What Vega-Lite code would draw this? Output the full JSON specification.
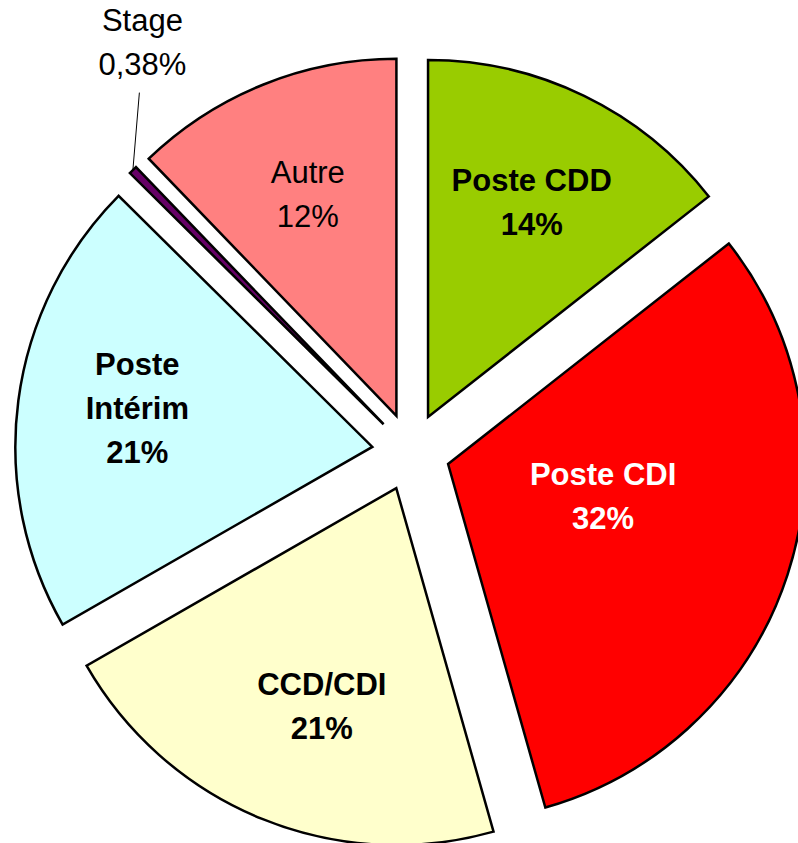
{
  "$schema": "https://vega.github.io/schema/vega-lite/v6.json",
  "width": 798,
  "height": 843,
  "autosize": {"type": "none"},
  "padding": 0,
  "background": "white",
  "config": {"view": {"stroke": null}},
  "data": {
    "values": [
      {"cat": "Poste CDD", "value": 14.4, "label": "Poste CDD\n14%"},
      {"cat": "Poste CDI", "value": 31.2, "label": "Poste CDI\n32%"},
      {"cat": "CCD/CDI", "value": 21.1, "label": "CCD/CDI\n21%"},
      {"cat": "Poste Intérim", "value": 20.7, "label": "Poste\nIntérim\n21%"},
      {"cat": "Stage", "value": 0.38, "label": "Stage\n0,38%"},
      {"cat": "Autre", "value": 12.2, "label": "Autre\n12%"}
    ]
  },
  "transform": [
    {"window": [{"op": "sum", "field": "value", "as": "cum"}], "frame": [null, 0]},
    {"joinaggregate": [{"op": "sum", "field": "value", "as": "total"}]},
    {"calculate": "(datum.cum - datum.value) / datum.total", "as": "a0"},
    {"calculate": "datum.cum / datum.total", "as": "a1"},
    {"calculate": "(datum.a0 + datum.a1) / 2", "as": "m"},
    {"calculate": "39 * sin(2 * PI * datum.m)", "as": "ex"},
    {"calculate": "-39 * cos(2 * PI * datum.m)", "as": "ey"},
    {"calculate": "datum.ex + 357 * sin(2 * PI * datum.m)", "as": "ox"},
    {"calculate": "datum.ey - 357 * cos(2 * PI * datum.m)", "as": "oy"},
    {"calculate": "datum.ox + 6.5", "as": "ox2"},
    {"calculate": "datum.oy - 77.5", "as": "oy2"}
  ],
  "encoding": {
    "x": {"field": "ex", "type": "quantitative", "stack": null, "scale": {"domain": [-411, 387], "range": [0, 798], "nice": false, "zero": false}, "axis": null},
    "y": {"field": "ey", "type": "quantitative", "stack": null, "scale": {"domain": [-452, 391], "range": [0, 843], "nice": false, "zero": false}, "axis": null}
  },
  "layer": [
    {
      "mark": {"type": "arc", "outerRadius": 357, "stroke": "black", "strokeWidth": 2.5},
      "encoding": {
        "theta": {"field": "a0", "type": "quantitative", "stack": null, "scale": {"domain": [0, 1], "range": [0, 6.283185307179586]}},
        "theta2": {"field": "a1"},
        "color": {
          "field": "cat", "type": "nominal", "legend": null,
          "scale": {
            "domain": ["Poste CDD", "Poste CDI", "CCD/CDI", "Poste Intérim", "Stage", "Autre"],
            "range": ["#99CC00", "#FF0000", "#FFFFCC", "#CCFFFF", "#660066", "#FF8080"]
          }
        }
      }
    },
    {
      "transform": [{"filter": "datum.cat === 'Poste CDD'"}],
      "mark": {"type": "text", "radius": 237, "dy": -22, "font": "Liberation Sans", "fontSize": 31, "fontWeight": "bold", "lineBreak": "\n", "lineHeight": 44, "align": "center", "baseline": "middle", "fill": "black"},
      "encoding": {
        "theta": {"field": "m", "type": "quantitative", "stack": null, "scale": {"domain": [0, 1], "range": [0, 6.283185307179586]}},
        "text": {"field": "label"}
      }
    },
    {
      "transform": [{"filter": "datum.cat === 'CCD/CDI'"}],
      "mark": {"type": "text", "radius": 237, "dx": 15, "dy": -22, "font": "Liberation Sans", "fontSize": 31, "fontWeight": "bold", "lineBreak": "\n", "lineHeight": 44, "align": "center", "baseline": "middle", "fill": "black"},
      "encoding": {
        "theta": {"field": "m", "type": "quantitative", "stack": null, "scale": {"domain": [0, 1], "range": [0, 6.283185307179586]}},
        "text": {"field": "label"}
      }
    },
    {
      "transform": [{"filter": "datum.cat === 'Poste Intérim'"}],
      "mark": {"type": "text", "radius": 237, "dy": -50, "font": "Liberation Sans", "fontSize": 31, "fontWeight": "bold", "lineBreak": "\n", "lineHeight": 44, "align": "center", "baseline": "middle", "fill": "black"},
      "encoding": {
        "theta": {"field": "m", "type": "quantitative", "stack": null, "scale": {"domain": [0, 1], "range": [0, 6.283185307179586]}},
        "text": {"field": "label"}
      }
    },
    {
      "transform": [{"filter": "datum.cat === 'Poste CDI'"}],
      "mark": {"type": "text", "radius": 163, "dy": -38, "font": "Liberation Sans", "fontSize": 31, "fontWeight": "bold", "lineBreak": "\n", "lineHeight": 44, "align": "center", "baseline": "middle", "fill": "white"},
      "encoding": {
        "theta": {"field": "m", "type": "quantitative", "stack": null, "scale": {"domain": [0, 1], "range": [0, 6.283185307179586]}},
        "text": {"field": "label"}
      }
    },
    {
      "transform": [{"filter": "datum.cat === 'Autre'"}],
      "mark": {"type": "text", "radius": 237, "dy": -22, "font": "Liberation Sans", "fontSize": 31, "fontWeight": "normal", "lineBreak": "\n", "lineHeight": 44, "align": "center", "baseline": "middle", "fill": "black"},
      "encoding": {
        "theta": {"field": "m", "type": "quantitative", "stack": null, "scale": {"domain": [0, 1], "range": [0, 6.283185307179586]}},
        "text": {"field": "label"}
      }
    },
    {
      "transform": [{"filter": "datum.cat === 'Stage'"}],
      "mark": {"type": "rule", "stroke": "black", "strokeWidth": 1},
      "encoding": {
        "x": {"field": "ox", "type": "quantitative", "stack": null, "scale": {"domain": [-411, 387], "range": [0, 798], "nice": false, "zero": false}, "axis": null},
        "y": {"field": "oy", "type": "quantitative", "stack": null, "scale": {"domain": [-452, 391], "range": [0, 843], "nice": false, "zero": false}, "axis": null},
        "x2": {"field": "ox2"},
        "y2": {"field": "oy2"}
      }
    },
    {
      "transform": [{"filter": "datum.cat === 'Stage'"}],
      "mark": {"type": "text", "radius": 357, "dx": 9.5, "dy": -148.5, "font": "Liberation Sans", "fontSize": 31, "fontWeight": "normal", "lineBreak": "\n", "lineHeight": 44, "align": "center", "baseline": "middle", "fill": "black"},
      "encoding": {
        "theta": {"field": "m", "type": "quantitative", "stack": null, "scale": {"domain": [0, 1], "range": [0, 6.283185307179586]}},
        "text": {"field": "label"}
      }
    }
  ]
}
